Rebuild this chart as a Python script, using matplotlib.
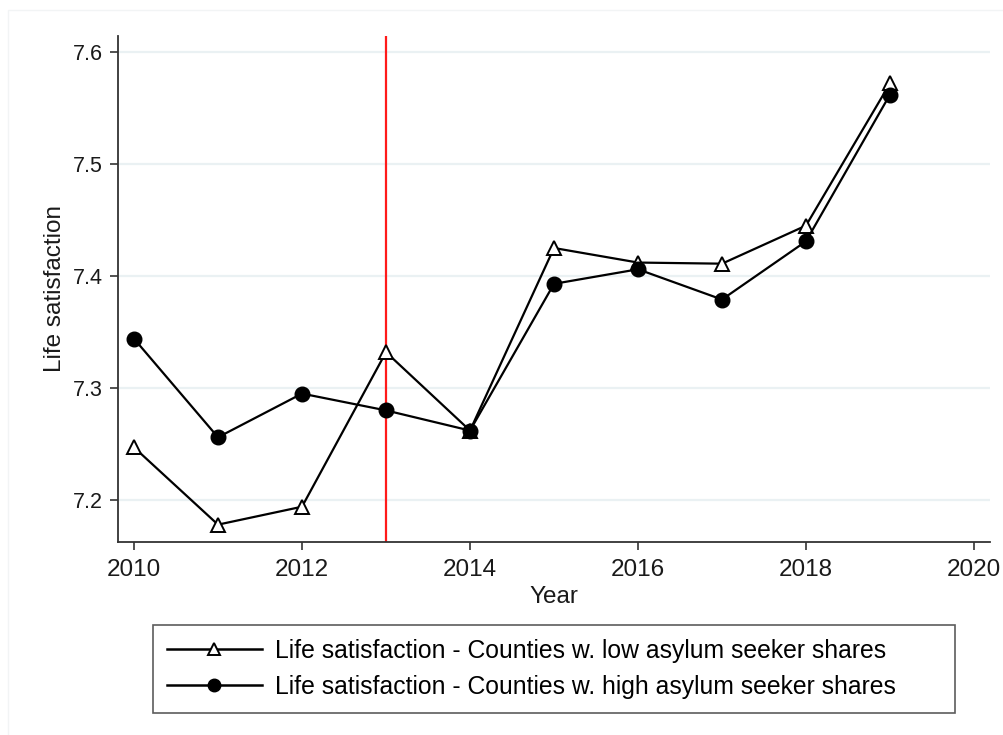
import matplotlib
matplotlib.use("Agg")
import matplotlib.pyplot as plt
from matplotlib.patches import Rectangle

plt.rcParams['font.family'] = ['Liberation Sans', 'DejaVu Sans']

years = [2010, 2011, 2012, 2013, 2014, 2015, 2016, 2017, 2018, 2019]
low_shares = [7.247, 7.178, 7.194, 7.332, 7.262, 7.425, 7.412, 7.411, 7.445, 7.572]
high_shares = [7.344, 7.256, 7.295, 7.280, 7.262, 7.393, 7.406, 7.379, 7.431, 7.562]
x_ticks = [2010, 2012, 2014, 2016, 2018, 2020]
y_ticks = [7.2, 7.3, 7.4, 7.5, 7.6]
event_year = 2013

label_low = "Life satisfaction - Counties w. low asylum seeker shares"
label_high = "Life satisfaction - Counties w. high asylum seeker shares"

W, H = 1004, 735
fig = plt.figure(figsize=(W / 100, H / 100), dpi=100)
fig.patch.set_facecolor("white")

# faint outer frame
fig.patches.append(Rectangle((8 / W, -0.01), 1.02, 1 - 10 / H + 0.01,
                             transform=fig.transFigure, fill=False,
                             edgecolor="#f2f4f5", linewidth=1.0))

ax = fig.add_axes([118 / W, 1 - 542 / H, (990 - 118) / W, (542 - 36) / H])

ax.set_xlim(2010 - 16 / 84, 2020 + 16 / 84)
ax.set_ylim(7.2 - 42 / 1120, 7.6 + 16 / 1120)

for y in y_ticks:
    ax.axhline(y, color="#eaf1f3", linewidth=1.6, zorder=0)

ax.axvline(event_year, color="#ff1a1a", linewidth=1.6, zorder=1)

ax.plot(years, low_shares, color="black", linewidth=1.6, marker="^",
        markersize=10.5, markerfacecolor="white", markeredgecolor="black",
        markeredgewidth=1.4, zorder=3, label=label_low)
ax.plot(years, high_shares, color="black", linewidth=1.6, marker="o",
        markersize=10.5, markerfacecolor="black", markeredgecolor="black",
        zorder=4, label=label_high)

for side in ["top", "right"]:
    ax.spines[side].set_visible(False)
for side in ["left", "bottom"]:
    ax.spines[side].set_color("#333333")
    ax.spines[side].set_linewidth(1.3)

ax.set_xticks(x_ticks)
ax.set_yticks(y_ticks)
ax.set_yticklabels([f"{v:.1f}" for v in y_ticks])
ax.tick_params(axis="x", labelsize=17.5, length=6, width=1.2, color="#333333",
               labelcolor="#1a1a1a", pad=6)
ax.tick_params(axis="y", labelsize=15.5, length=6, width=1.2, color="#333333",
               labelcolor="#1a1a1a", pad=5)

ax.set_xlabel("Year", fontsize=17.5, color="#1a1a1a", labelpad=4)
ax.set_ylabel("Life satisfaction", fontsize=17.5, color="#1a1a1a", labelpad=5)

# legend box spanning a fixed region below the axes
lx0, lx1, ly0, ly1 = 153, 955, 625, 706
leg = fig.legend(loc="upper left",
                 bbox_to_anchor=(lx0 / W, 1 - ly1 / H, (lx1 - lx0) / W, (ly1 - ly0) / H),
                 mode="expand", fontsize=17.8, frameon=True, fancybox=False,
                 handlelength=3.85, handletextpad=0.55, borderpad=0.55,
                 labelspacing=0.5, borderaxespad=0)
leg.get_frame().set_edgecolor("#333333")
leg.get_frame().set_linewidth(1.2)
for h in leg.legend_handles:
    h.set_markersize(9)
    h.set_linewidth(1.8)

fig.savefig("out.png", dpi=100, facecolor="white")
